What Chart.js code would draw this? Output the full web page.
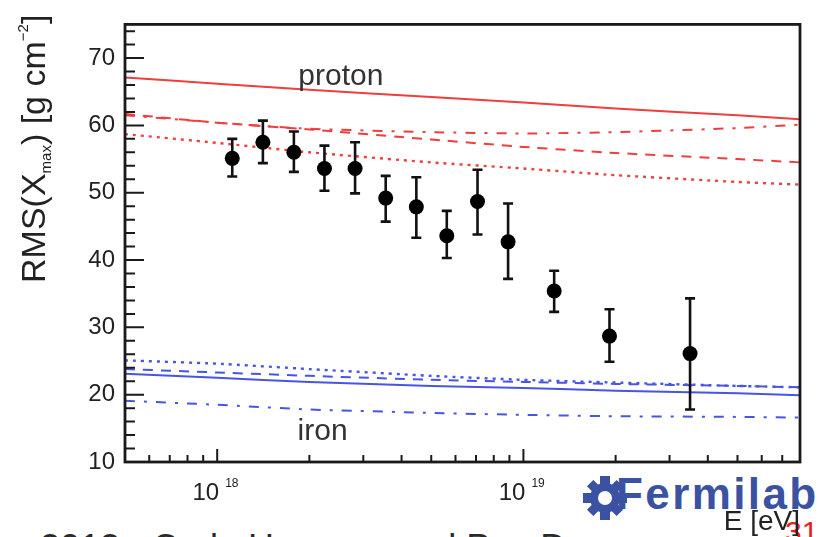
<!DOCTYPE html>
<html>
<head>
<meta charset="utf-8">
<title>RMS(Xmax) vs energy</title>
<script src="https://cdn.jsdelivr.net/npm/chart.js@4.4.0/dist/chart.umd.min.js"></script>
<style>
  html, body { margin: 0; padding: 0; background: #fff; }
  #wrap { position: relative; width: 831px; height: 537px; overflow: hidden;
          font-family: "Liberation Sans", Arial, sans-serif; }
  #plot { position: absolute; left: 0; top: 0; z-index: 2; }
  #fnal { position: absolute; left: 582px; top: 472px; z-index: 1; height: 50px; }
  #fnal svg { position: absolute; left: 0; top: 2px; }
  #fnal span { position: absolute; left: 34px; top: 0; font-weight: bold; font-size: 44px;
               line-height: 44px; letter-spacing: 2.4px; color: #3b52a3; white-space: nowrap; }
  #slide { position: absolute; left: 785px; top: 517px; z-index: 1; font-size: 30px;
           line-height: 30px; color: #e8221a; }
  #footer { position: absolute; left: 40px; top: 530px; z-index: 1; font-size: 36px;
            line-height: 36px; color: #2a2a2a; white-space: nowrap; }
</style>
</head>
<body>
<div id="wrap">
  <div id="fnal">
    <svg width="46" height="48" viewBox="0 0 46 48">
      <g fill="#3b52a3" transform="translate(23,24)">
        <circle r="15"/>
        <rect x="-5" y="-22" width="10" height="10"/>
        <rect x="-5" y="12" width="10" height="10"/>
        <rect x="-22" y="-5" width="10" height="10"/>
        <rect x="12" y="-5" width="10" height="10"/>
        <g transform="rotate(45)">
          <rect x="-4.5" y="-21" width="9" height="9"/>
          <rect x="-4.5" y="12" width="9" height="9"/>
          <rect x="-21" y="-4.5" width="9" height="9"/>
          <rect x="12" y="-4.5" width="9" height="9"/>
        </g>
      </g>
      <circle cx="23" cy="24" r="7" fill="#fff"/>
    </svg>
    <span>Fermilab</span>
  </div>
  <div id="slide">31</div>
  <div id="footer">2013 - Carla Hemmer and Pau Desp</div>
  <canvas id="plot" width="831" height="537"></canvas>
</div>
<script>
// measured RMS(Xmax) per energy bin, with upper / lower ends of the error bars
const energy = [1.12e18, 1.41e18, 1.78e18, 2.24e18, 2.82e18, 3.55e18, 4.47e18,
                5.62e18, 7.08e18, 8.91e18, 1.26e19, 1.91e19, 3.5e19];
const rms    = [55.1, 57.5, 56.0, 53.6, 53.6, 49.2, 47.9, 43.6, 48.7, 42.7, 35.4, 28.7, 26.1];
const rmsUp  = [58.0, 60.7, 59.1, 57.0, 57.5, 52.5, 52.3, 47.3, 53.4, 48.4, 38.4, 32.7, 34.3];
const rmsLow = [52.4, 54.4, 53.1, 50.3, 49.9, 45.7, 43.3, 40.3, 43.8, 37.2, 32.3, 24.9, 17.8];

// model predictions, sampled at these energies
const modelE = [5e17, 1e18, 2e18, 5e18, 1e19, 2e19, 5e19, 8e19];
const protonSolid   = [67.1, 66.2, 65.3, 64.2, 63.4, 62.5, 61.5, 60.9];
const protonDashDot = [61.5, 60.4, 59.5, 59.0, 58.8, 59.0, 59.6, 60.1];
const protonDashed  = [61.7, 60.4, 59.4, 57.9, 56.8, 55.9, 55.0, 54.5];
const protonDotted  = [58.7, 57.4, 56.0, 54.5, 53.6, 52.6, 51.6, 51.2];
const ironDotted    = [25.1, 24.6, 23.8, 22.8, 22.2, 21.8, 21.3, 21.1];
const ironDashed    = [23.8, 23.3, 22.8, 22.2, 21.9, 21.6, 21.3, 21.1];
const ironSolid     = [23.1, 22.5, 21.9, 21.3, 21.0, 20.6, 20.2, 19.9];
const ironDashDot   = [19.1, 18.5, 17.8, 17.3, 17.0, 16.8, 16.7, 16.6];

const yTickValues = [10, 20, 30, 40, 50, 60, 70];
const xTickValues = [1e18, 1e19];
const xTickExponents = ['18', '19'];

// text labels placed in data coordinates
const curveLabels = [
  { text: 'proton', x: 1.84e18, y: 66.0 },
  { text: 'iron',   x: 1.83e18, y: 13.2 }
];

const RED = 'rgb(238,62,62)';
const BLUE = 'rgb(72,84,228)';

function curve(values, color, dash, width) {
  return {
    type: 'line',
    data: modelE.map((e, i) => ({ x: e, y: values[i] })),
    borderColor: color,
    borderWidth: width || 2,
    borderDash: dash,
    pointRadius: 0,
    fill: false,
    tension: 0.2
  };
}

const DASH = [10, 8];
const DOT = [3, 5];
const DASHDOT = [10, 9, 3, 9];

const errorBars = {
  id: 'errorBars',
  afterDatasetsDraw(chart) {
    const { ctx, scales: { x, y } } = chart;
    ctx.save();
    ctx.strokeStyle = '#111';
    ctx.lineWidth = 2.6;
    energy.forEach((e, i) => {
      const px = x.getPixelForValue(e);
      const top = y.getPixelForValue(rmsUp[i]);
      const bot = y.getPixelForValue(rmsLow[i]);
      ctx.beginPath();
      ctx.moveTo(px, top); ctx.lineTo(px, bot);
      ctx.moveTo(px - 5, top); ctx.lineTo(px + 5, top);
      ctx.moveTo(px - 5, bot); ctx.lineTo(px + 5, bot);
      ctx.stroke();
      ctx.beginPath();
      ctx.fillStyle = '#000';
      ctx.arc(px, y.getPixelForValue(rms[i]), 7.5, 0, Math.PI * 2);
      ctx.fill();
    });
    ctx.restore();
  }
};

// ROOT-style frame, inward ticks, axis labels and titles
const rootAxes = {
  id: 'rootAxes',
  afterDraw(chart) {
    const { ctx, chartArea: a, scales: { x, y } } = chart;
    ctx.save();
    ctx.strokeStyle = '#1a1a1a';
    ctx.lineWidth = 2;
    ctx.beginPath();
    for (let v = 10; v <= 75; v += 2) {
      const py = y.getPixelForValue(v);
      const len = v % 10 === 0 ? 19 : 10;
      ctx.moveTo(a.left, py); ctx.lineTo(a.left + len, py);
    }
    for (let n = 17; n <= 19; n++) {
      for (let k = 1; k <= 9; k++) {
        const v = k * Math.pow(10, n);
        if (v < x.min || v > x.max) continue;
        const px = x.getPixelForValue(v);
        const len = k === 1 ? 13 : 7;
        ctx.moveTo(px, a.bottom); ctx.lineTo(px, a.bottom - len);
      }
    }
    ctx.stroke();

    ctx.lineWidth = 2.8;
    ctx.strokeRect(a.left, a.top, a.right - a.left, a.bottom - a.top);

    ctx.fillStyle = '#222';
    ctx.textBaseline = 'alphabetic';
    xTickValues.forEach((v, i) => {
      const px = x.getPixelForValue(v);
      ctx.font = '24px "Liberation Sans", Arial, sans-serif';
      ctx.textAlign = 'right';
      ctx.fillText('10', px + 2, 500);
      ctx.font = '12px "Liberation Sans", Arial, sans-serif';
      ctx.textAlign = 'left';
      ctx.fillText(xTickExponents[i], px + 8, 487);
    });

    ctx.font = '28px "Liberation Sans", Arial, sans-serif';
    ctx.textAlign = 'right';
    ctx.fillText('E [eV]', a.right, 530);

    ctx.font = '30px "Liberation Sans", Arial, sans-serif';
    ctx.textAlign = 'left';
    ctx.fillStyle = '#333';
    curveLabels.forEach(l => {
      ctx.fillText(l.text, x.getPixelForValue(l.x), y.getPixelForValue(l.y));
    });

    // rotated y title with subscript and superscript
    ctx.fillStyle = '#222';
    ctx.translate(45, 283);
    ctx.rotate(-Math.PI / 2);
    const parts = [
      { t: 'RMS(X', size: 34, dy: 0 },
      { t: 'max', size: 15, dy: 6 },
      { t: ') [g cm', size: 34, dy: 0 },
      { t: '\u22122', size: 15, dy: -17 },
      { t: ']', size: 34, dy: 0 }
    ];
    let cx = 0;
    parts.forEach(p => {
      ctx.font = p.size + 'px "Liberation Sans", Arial, sans-serif';
      ctx.fillText(p.t, cx, p.dy);
      cx += ctx.measureText(p.t).width;
    });
    ctx.restore();
  }
};

new Chart(document.getElementById('plot'), {
  type: 'scatter',
  data: {
    datasets: [
      curve(protonSolid, RED, []),
      curve(protonDashDot, RED, DASHDOT),
      curve(protonDashed, RED, DASH),
      curve(protonDotted, RED, DOT, 2.4),
      curve(ironDotted, BLUE, DOT, 2.4),
      curve(ironDashed, BLUE, DASH),
      curve(ironSolid, BLUE, []),
      curve(ironDashDot, BLUE, DASHDOT)
    ]
  },
  options: {
    responsive: false,
    devicePixelRatio: 1,
    animation: false,
    layout: { padding: { top: 11, right: 31, left: 0, bottom: 0 } },
    plugins: { legend: { display: false }, tooltip: { enabled: false } },
    scales: {
      x: {
        type: 'logarithmic',
        min: 5e17,
        max: 8e19,
        grid: { display: false },
        border: { display: false },
        ticks: { display: false },
        afterFit(scale) { scale.height = 75; }
      },
      y: {
        type: 'linear',
        min: 10,
        max: 75,
        grid: { display: false, drawTicks: false },
        border: { display: false },
        afterBuildTicks(scale) { scale.ticks = yTickValues.map(v => ({ value: v })); },
        ticks: {
          padding: 10,
          color: '#222',
          font: { size: 24, family: '"Liberation Sans", Arial, sans-serif' }
        },
        afterFit(scale) { scale.width = 125; }
      }
    }
  },
  plugins: [errorBars, rootAxes]
});
</script>
</body>
</html>
